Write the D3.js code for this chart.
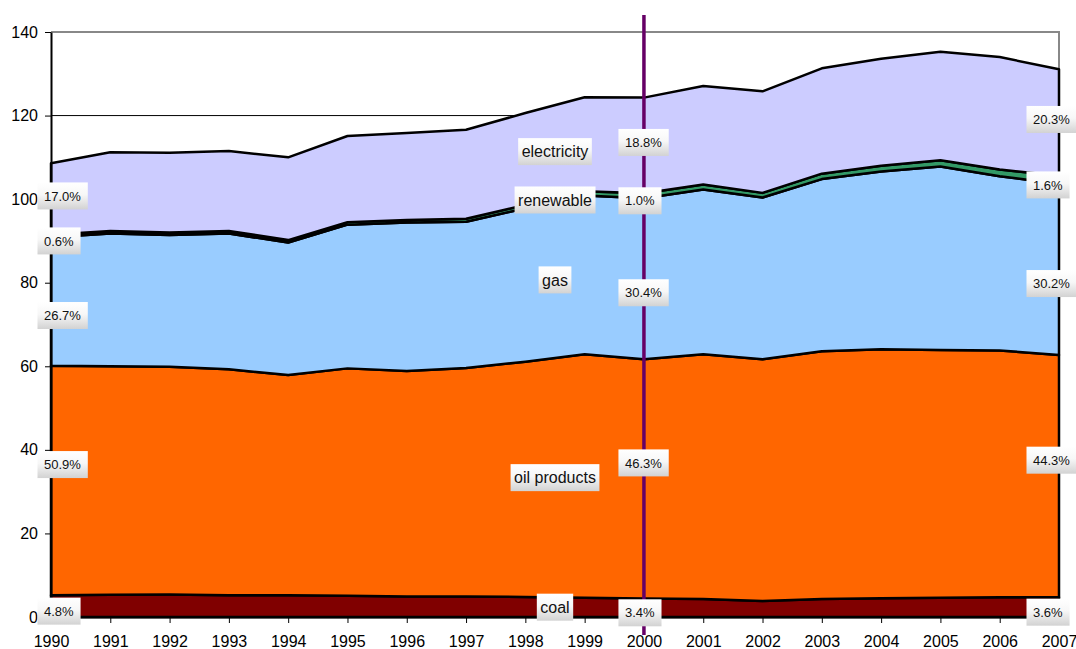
<!DOCTYPE html>
<html>
<head>
<meta charset="utf-8">
<script src="https://cdn.jsdelivr.net/npm/d3@7"></script>
<style>
  body { margin: 0; background: #fff; }
  svg { display: block; font-family: "Liberation Sans", Arial, sans-serif; }
</style>
</head>
<body>
<svg id="chart"></svg>
<script>
// data
const years = [1990, 1991, 1992, 1993, 1994, 1995, 1996, 1997, 1998, 1999, 2000, 2001, 2002, 2003, 2004, 2005, 2006, 2007];
const coal        = [5.2, 5.3, 5.4, 5.2, 5.2, 5.1, 4.9, 4.9, 4.8, 4.6, 4.4, 4.3, 3.8, 4.3, 4.5, 4.6, 4.7, 4.7];
const oilProducts = [54.9, 54.7, 54.5, 54.1, 52.7, 54.4, 54.0, 54.7, 56.3, 58.3, 57.3, 58.6, 57.9, 59.3, 59.6, 59.3, 59.1, 58.0];
const gas         = [30.8, 31.8, 31.5, 32.5, 31.7, 34.4, 35.5, 35.0, 36.7, 38.0, 38.5, 39.4, 38.7, 41.2, 42.5, 43.9, 41.7, 40.9];
const renewable   = [0.6, 0.6, 0.6, 0.6, 0.6, 0.6, 0.6, 0.7, 0.8, 1.0, 1.2, 1.2, 1.1, 1.3, 1.4, 1.5, 1.6, 2.0];
const electricity = [17.1, 18.8, 19.1, 19.1, 19.8, 20.6, 20.8, 21.3, 22.0, 22.5, 22.9, 23.6, 24.3, 25.2, 25.6, 26.0, 26.9, 25.5];

const seriesNames = ['coal', 'oil products', 'gas', 'renewable', 'electricity'];
const labelYears = [1990, 2000, 2007];
const shares1990 = [4.8, 50.9, 26.7, 0.6, 17.0];
const shares2000 = [3.4, 46.3, 30.4, 1.0, 18.8];
const shares2007 = [3.6, 44.3, 30.2, 1.6, 20.3];
const yTicks = [0, 20, 40, 60, 80, 100, 120, 140];
const markerYear = 2000;

// layout
const width = 1076;
const height = 649;
const margin = { top: 32, right: 17, bottom: 32, left: 51 };
const colors = ['#800000', '#ff6600', '#99ccff', '#339966', '#ccccff'];
const shareDx = [-7, -19, -26];          // text start relative to year
const shareDy = [5, -16, 14, 5, -3];     // per series nudge
const nameYear = 1998.5;

const svg = d3.select('#chart').attr('width', width).attr('height', height);

const x = d3.scaleLinear()
  .domain([years[0], years[years.length - 1]])
  .range([margin.left, width - margin.right]);
const y = d3.scaleLinear()
  .domain([0, 140])
  .range([height - margin.bottom, margin.top]);

const rows = years.map((yr, i) => ({
  year: yr,
  coal: coal[i],
  'oil products': oilProducts[i],
  gas: gas[i],
  renewable: renewable[i],
  electricity: electricity[i]
}));
const stacked = d3.stack().keys(seriesNames)(rows);

// gradient for label boxes
const defs = svg.append('defs');
const grad = defs.append('linearGradient')
  .attr('id', 'boxGrad').attr('x1', 0).attr('y1', 0).attr('x2', 0).attr('y2', 1);
grad.append('stop').attr('offset', '0%').attr('stop-color', '#ffffff');
grad.append('stop').attr('offset', '45%').attr('stop-color', '#f7f7f7');
grad.append('stop').attr('offset', '100%').attr('stop-color', '#d2d2d2');

// gridlines
svg.append('g')
  .selectAll('line')
  .data(yTicks.filter(t => t > 0 && t < 140))
  .enter()
  .append('line')
  .attr('x1', margin.left).attr('x2', width - margin.right)
  .attr('y1', d => y(d)).attr('y2', d => y(d))
  .attr('stroke', '#000').attr('stroke-width', 1);

// gray frame top and right
svg.append('path')
  .attr('d', `M${x(years[0])},${y(140)}H${x(2007)}V${y(0)}`)
  .attr('fill', 'none')
  .attr('stroke', '#888')
  .attr('stroke-width', 2);

// areas
const area = d3.area()
  .x(d => x(d.data.year))
  .y0(d => y(d[0]))
  .y1(d => y(d[1]));

svg.append('g')
  .selectAll('path')
  .data(stacked)
  .enter()
  .append('path')
  .attr('d', area)
  .attr('fill', (d, i) => colors[i])
  .attr('stroke', '#000')
  .attr('stroke-width', 2.5)
  .attr('stroke-linejoin', 'round');

// axes
const yAxis = d3.axisLeft(y).tickValues(yTicks).tickSize(6).tickSizeOuter(0).tickPadding(7);
const gy = svg.append('g')
  .attr('transform', `translate(${margin.left},0)`)
  .call(yAxis);
gy.select('.domain').attr('stroke', '#000').attr('stroke-width', 2);
gy.selectAll('.tick line').attr('stroke', '#000');
gy.selectAll('text').attr('font-size', 16).attr('fill', '#000');

const xAxis = d3.axisBottom(x).tickValues(years).tickFormat(d3.format('d'))
  .tickSize(6).tickSizeOuter(0).tickPadding(13);
const gx = svg.append('g')
  .attr('transform', `translate(0,${height - margin.bottom})`)
  .call(xAxis);
gx.select('.domain').attr('stroke', '#000').attr('stroke-width', 2);
gx.selectAll('.tick line').attr('stroke', '#000');
gx.selectAll('text').attr('font-size', 16).attr('fill', '#000');

// marker line at 2000
svg.append('line')
  .attr('x1', x(markerYear)).attr('x2', x(markerYear))
  .attr('y1', 15).attr('y2', height - 14)
  .attr('stroke', '#660066')
  .attr('stroke-width', 3.5);

// boxed label helper
const boxLabel = (px, py, text, size, anchor, pad) => {
  const g = svg.append('g');
  const t = g.append('text')
    .attr('x', px).attr('y', py)
    .attr('dy', '0.36em')
    .attr('text-anchor', anchor)
    .attr('font-size', size)
    .attr('fill', '#111')
    .text(text);
  const bb = t.node().getBBox();
  g.insert('rect', 'text')
    .attr('x', bb.x - pad)
    .attr('y', py - 13.5)
    .attr('width', bb.width + pad * 2)
    .attr('height', 27)
    .attr('fill', 'url(#boxGrad)');
};

// share labels
const shareCols = [shares1990, shares2000, shares2007];
labelYears.forEach((yr, c) => {
  const idx = years.indexOf(yr);
  stacked.forEach((layer, s) => {
    const mid = (layer[idx][0] + layer[idx][1]) / 2;
    boxLabel(x(yr) + shareDx[c], y(mid) + shareDy[s],
      shareCols[c][s].toFixed(1) + '%', 13, 'start', 6.5);
  });
});

// series name labels, placed mid-layer between 1998 and 1999
const i0 = years.indexOf(Math.floor(nameYear));
const f = nameYear - years[i0];
stacked.forEach((layer, s) => {
  const lo = layer[i0][0] * (1 - f) + layer[i0 + 1][0] * f;
  const hi = layer[i0][1] * (1 - f) + layer[i0 + 1][1] * f;
  boxLabel(x(nameYear), y((lo + hi) / 2), seriesNames[s], 16, 'middle', 3.5);
});
</script>
</body>
</html>
